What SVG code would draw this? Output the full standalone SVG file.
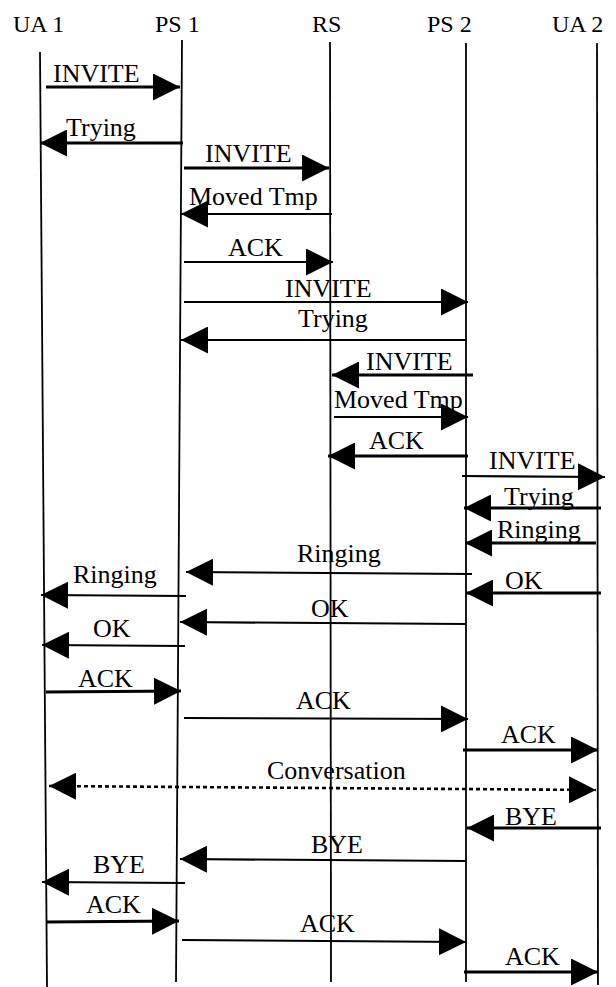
<svg xmlns="http://www.w3.org/2000/svg" width="616" height="987" viewBox="0 0 616 987">
<style>
  .hdr { font-family: "Liberation Serif", "Times New Roman", serif; font-size: 24px; fill: #000; }
  .lbl { font-family: "Liberation Serif", "Times New Roman", serif; font-size: 26px; fill: #000; }
  .life { stroke: #000; stroke-width: 1.8; fill: none; }
  .msg { stroke: #000; fill: none; marker-end: url(#ah); }
  .w3 { stroke-width: 3; }
  .w2 { stroke-width: 2.2; }
  .dot { stroke: #000; stroke-width: 2.6; stroke-dasharray: 4 3; fill: none; marker-start: url(#ah); marker-end: url(#ah); }
</style>
<defs>
  <marker id="ah" markerUnits="userSpaceOnUse" markerWidth="27" markerHeight="27" refX="27" refY="13.5" orient="auto-start-reverse" viewBox="0 0 27 27">
    <path d="M0,0 L27,13.5 L0,27 Z" fill="#000"/>
  </marker>
</defs>
<rect width="616" height="987" fill="#fff"/>

<g id="UA1">
  <text class="hdr" x="13" y="32">UA 1</text>
  <line class="life" x1="40" y1="52" x2="47" y2="987"/>
</g>
<g id="PS1">
  <text class="hdr" x="155" y="32">PS 1</text>
  <line class="life" x1="182" y1="40" x2="176" y2="982"/>
</g>
<g id="RS">
  <text class="hdr" x="312" y="32">RS</text>
  <line class="life" x1="330" y1="42" x2="331" y2="982"/>
</g>
<g id="PS2">
  <text class="hdr" x="427" y="32">PS 2</text>
  <line class="life" x1="466" y1="43" x2="466" y2="982"/>
</g>
<g id="UA2">
  <text class="hdr" x="552" y="32">UA 2</text>
  <line class="life" x1="597" y1="43" x2="598" y2="985"/>
</g>

<g id="connectors">
  <line class="msg w3" x1="46" y1="87" x2="180" y2="87"/>
  <line class="msg w3" x1="183" y1="143" x2="40" y2="143"/>
  <line class="msg w3" x1="184" y1="168" x2="329" y2="168"/>
  <line class="msg w2" x1="332" y1="214" x2="181" y2="214"/>
  <line class="msg w2" x1="184" y1="262" x2="333" y2="262"/>
  <line class="msg w2" x1="184" y1="302" x2="468" y2="302"/>
  <line class="msg w2" x1="467" y1="340" x2="181" y2="340"/>
  <line class="msg w3" x1="473" y1="375" x2="332" y2="375"/>
  <line class="msg w2" x1="334" y1="417" x2="468" y2="417"/>
  <line class="msg w3" x1="468" y1="456" x2="328" y2="456"/>
  <line class="msg w2" x1="462" y1="476" x2="605" y2="477"/>
  <line class="msg w3" x1="601" y1="508" x2="464" y2="508"/>
  <line class="msg w3" x1="596" y1="543" x2="465" y2="543"/>
  <line class="msg w2" x1="472" y1="574" x2="186" y2="572"/>
  <line class="msg w3" x1="601" y1="593" x2="466" y2="593"/>
  <line class="msg w2" x1="186" y1="596" x2="41" y2="595"/>
  <line class="msg w2" x1="466" y1="624" x2="180" y2="622"/>
  <line class="msg w2" x1="185" y1="646" x2="42" y2="645"/>
  <line class="msg w3" x1="46" y1="692" x2="181" y2="691"/>
  <line class="msg w2" x1="184" y1="718" x2="468" y2="719"/>
  <line class="msg w3" x1="463" y1="750" x2="598" y2="750"/>
  <line class="dot" x1="49" y1="786" x2="596" y2="790"/>
  <line class="msg w3" x1="601" y1="828" x2="467" y2="828"/>
  <line class="msg w2" x1="466" y1="861" x2="180" y2="859"/>
  <line class="msg w2" x1="185" y1="883" x2="42" y2="882"/>
  <line class="msg w3" x1="46" y1="922" x2="179" y2="921"/>
  <line class="msg w2" x1="182" y1="940" x2="466" y2="942"/>
  <line class="msg w3" x1="464" y1="972" x2="598" y2="972"/>
</g>

<g id="labels">
  <text class="lbl" x="53" y="82">INVITE</text>
  <text class="lbl" x="66" y="136">Trying</text>
  <text class="lbl" x="205" y="162">INVITE</text>
  <text class="lbl" x="189" y="205">Moved Tmp</text>
  <text class="lbl" x="228" y="256">ACK</text>
  <text class="lbl" x="285" y="297">INVITE</text>
  <text class="lbl" x="298" y="327">Trying</text>
  <text class="lbl" x="366" y="370">INVITE</text>
  <text class="lbl" x="334" y="408">Moved Tmp</text>
  <text class="lbl" x="369" y="449">ACK</text>
  <text class="lbl" x="489" y="469">INVITE</text>
  <text class="lbl" x="504" y="505">Trying</text>
  <text class="lbl" x="497" y="538">Ringing</text>
  <text class="lbl" x="297" y="562">Ringing</text>
  <text class="lbl" x="505" y="589">OK</text>
  <text class="lbl" x="73" y="583">Ringing</text>
  <text class="lbl" x="311" y="617">OK</text>
  <text class="lbl" x="93" y="637">OK</text>
  <text class="lbl" x="78" y="687">ACK</text>
  <text class="lbl" x="296" y="709">ACK</text>
  <text class="lbl" x="501" y="743">ACK</text>
  <text class="lbl" x="267" y="779">Conversation</text>
  <text class="lbl" x="505" y="825">BYE</text>
  <text class="lbl" x="311" y="853">BYE</text>
  <text class="lbl" x="93" y="873">BYE</text>
  <text class="lbl" x="86" y="913">ACK</text>
  <text class="lbl" x="300" y="932">ACK</text>
  <text class="lbl" x="505" y="965">ACK</text>
</g>
</svg>
